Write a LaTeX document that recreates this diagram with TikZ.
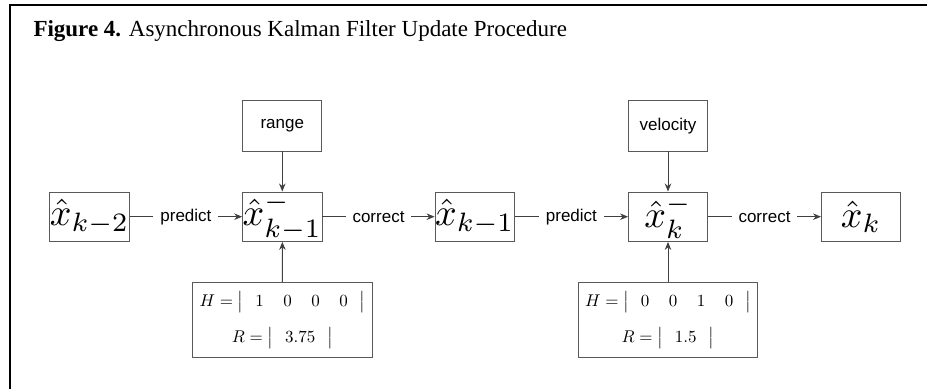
\documentclass[tikz,border=0pt]{standalone}
\usepackage{graphicx}
\usepackage{fontspec}
\newfontfamily\titlefont{Liberation Serif}
\newfontfamily\labelfont{Liberation Sans}
\usetikzlibrary{arrows.meta}
\newcommand{\bigmath}[1]{\scalebox{3.8}{$#1$}}
\newcommand{\midmath}[1]{\scalebox{1.7}{$#1$}}
\begin{document}
\begin{tikzpicture}[x=1pt,y=-1pt,
  mbox/.style={draw=black!65, line width=0.9pt, minimum width=79pt, minimum height=49.5pt, inner sep=0pt, font=\fontsize{10}{12}\selectfont},
  sbox/.style={draw=black!65, line width=0.9pt, minimum width=79pt, minimum height=50.3pt, inner sep=0pt, font=\labelfont\fontsize{17}{20}\selectfont},
  hbox/.style={draw=black!65, line width=0.9pt, minimum width=179.5pt, minimum height=75.4pt, inner sep=0pt, align=center, font=\fontsize{10}{36}\selectfont},
  conn/.style={draw=black!75, line width=0.9pt, -{Stealth[length=8pt,width=6.5pt]}},
  lab/.style={fill=white, font=\labelfont\fontsize{17}{20}\selectfont, inner xsep=7pt, inner ysep=2pt}
]
\useasboundingbox (0,0) rectangle (927,389);
\draw[line width=2pt] (10.3,389) -- (10.3,5) -- (927,5);
\node[anchor=base west, inner sep=0pt] (title) at (33.3,36) {\titlefont\fontsize{23}{26}\selectfont\textbf{Figure 4.} Asynchronous Kalman Filter Update Procedure};

\node[mbox] (x2) at (89.5,216.7) {\bigmath{\hat{x}_{k-2}}};
\node[mbox] (x1m) at (282.3,216.7) {\bigmath{\hat{x}^{-}_{k-1}}};
\node[mbox] (x1) at (474.7,216.7) {\bigmath{\hat{x}_{k-1}}};
\node[mbox] (xkm) at (668,216.7) {\bigmath{\hat{x}^{-}_{k}}};
\node[mbox] (xk) at (861,216.7) {\bigmath{\hat{x}_{k}}};

\node[sbox] (range) at (282.3,125.8) {range};
\node[sbox] (vel) at (668,125.8) {velocity};

\node[hbox] (h1) at (282.5,320) {\midmath{H=\bigl|\hspace{0.7em}1\hspace{1.15em}0\hspace{1.15em}0\hspace{1.15em}0\hspace{0.7em}\bigr|}\\\midmath{R=\bigl|\hspace{0.7em}3.75\hspace{0.7em}\bigr|}};
\node[hbox] (h2) at (668,320) {\midmath{H=\bigl|\hspace{0.7em}0\hspace{1.15em}0\hspace{1.15em}1\hspace{1.15em}0\hspace{0.7em}\bigr|}\\\midmath{R=\bigl|\hspace{0.7em}1.5\hspace{0.7em}\bigr|}};

\draw[conn] (x2) -- node[lab] {predict} (x1m);
\draw[conn] (x1m) -- node[lab] {correct} (x1);
\draw[conn] (x1) -- node[lab] {predict} (xkm);
\draw[conn] (xkm) -- node[lab] {correct} (xk);

\draw[conn] (range) -- (x1m);
\draw[conn] (vel) -- (xkm);
\draw[conn] (h1) -- (x1m);
\draw[conn] (h2) -- (xkm);
\end{tikzpicture}
\end{document}
